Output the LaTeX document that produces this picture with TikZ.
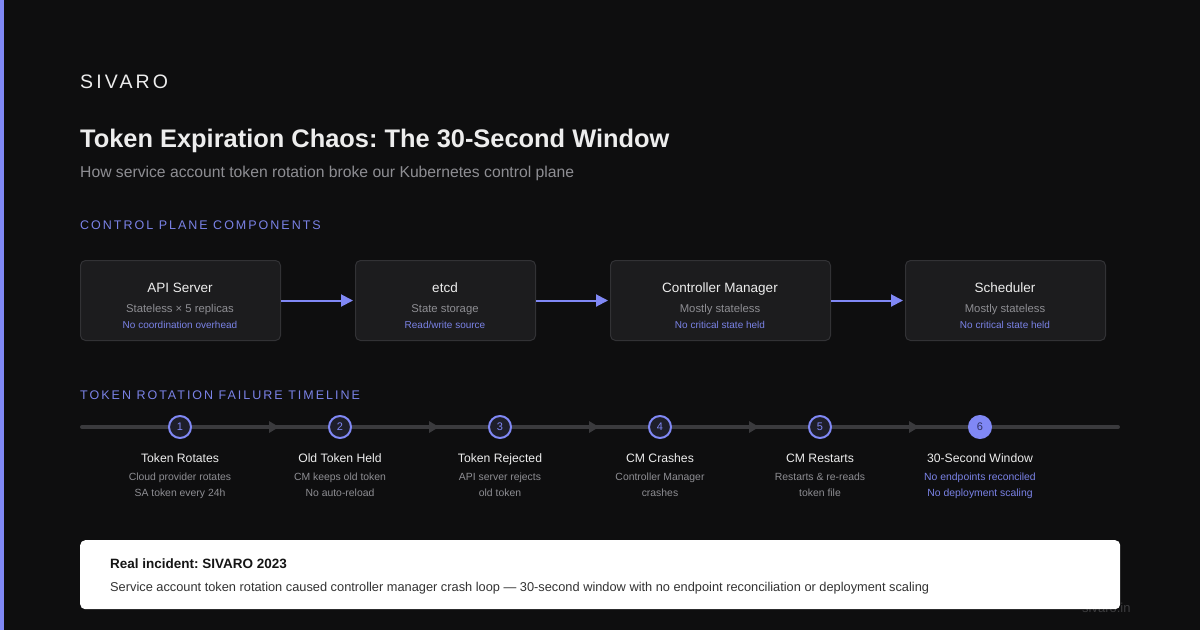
\documentclass[tikz,border=0pt]{standalone}
\usepackage{fontspec}
\setmainfont{Liberation Sans}
\newfontfamily\spacedA[LetterSpace=16]{Liberation Sans}
\newfontfamily\spacedB[LetterSpace=16]{Liberation Sans}
\usetikzlibrary{arrows.meta}
\frenchspacing
\definecolor{bg}{HTML}{0E0E0F}
\definecolor{boxfill}{HTML}{1C1C1E}
\definecolor{boxline}{HTML}{323235}
\definecolor{accent}{HTML}{8088F5}
\definecolor{accenttxt}{HTML}{7A82E6}
\definecolor{graytxt}{HTML}{8E8E93}
\definecolor{whitetxt}{HTML}{EDEDED}
\definecolor{linec}{HTML}{3A3A3D}
\definecolor{darktxt}{HTML}{151515}
\definecolor{bodytxt}{HTML}{333333}
\definecolor{wmark}{HTML}{3C3C3E}
\definecolor{stepfill}{HTML}{1E1E2A}
\definecolor{numdark}{HTML}{2E3060}
\newcommand{\fs}[1]{\fontsize{#1}{#1}\selectfont}
\tikzset{
  cbox/.style={draw=boxline, line width=1pt, fill=boxfill, rounded corners=5pt, anchor=north west, inner sep=0pt},
  ttl/.style={anchor=base, text=whitetxt, font=\fs{13.5}, inner sep=0pt},
  sub/.style={anchor=base, text=graytxt, font=\fs{11.3}, inner sep=0pt},
  acc/.style={anchor=base, text=accenttxt, font=\fs{10}, inner sep=0pt},
  conn/.style={draw=accent, line width=2pt, -{Triangle[length=12pt,width=12pt]}, shorten >=2pt},
  stepc/.style={circle, draw=accent, line width=2pt, fill=stepfill, minimum size=22pt, inner sep=0pt, text=accent, font=\fs{11}},
  stepcfill/.style={circle, draw=accent, line width=2pt, fill=accent, minimum size=22pt, inner sep=0pt, text=numdark, font=\fs{11}},
  tlttl/.style={anchor=base, text=whitetxt, font=\fs{12.2}, inner sep=0pt},
  tlsub/.style={anchor=base, text=graytxt, font=\fs{10.4}, inner sep=0pt},
  tlacc/.style={anchor=base, text=accenttxt, font=\fs{10.4}, inner sep=0pt},
  tip/.style={fill=linec},
}
\begin{document}
\begin{tikzpicture}[x=1pt,y=-1pt]
\fill[bg] (0,0) rectangle (1200,630);
\useasboundingbox (0,0) rectangle (1200,630);
\fill[accent] (0,0) rectangle (4,630);

% header
\node[anchor=base west, inner sep=0pt, text=whitetxt, font=\spacedA\fs{19.5}] (brand) at (80,88) {SIVARO};
\node[anchor=base west, inner sep=0pt, text=whitetxt, font=\bfseries\fs{25.4}] (title) at (80,147) {Token Expiration Chaos: The 30-Second Window};
\node[anchor=base west, inner sep=0pt, text=graytxt, font=\fs{15.7}] (subtitle) at (80,177.5) {How service account token rotation broke our Kubernetes control plane};
\node[anchor=base west, inner sep=0pt, text=accenttxt, font=\spacedB\fs{12.5}] (sec1) at (80,229.5) {CONTROL PLANE COMPONENTS};

% component boxes
\node[cbox, minimum width=200pt, minimum height=80pt] (api) at (80,260) {};
\node[cbox, minimum width=180pt, minimum height=80pt] (etcd) at (355,260) {};
\node[cbox, minimum width=220pt, minimum height=80pt] (cm) at (610,260) {};
\node[cbox, minimum width=200pt, minimum height=80pt] (sched) at (905,260) {};

\node[ttl] (apiT) at (180,292) {API Server};
\node[sub] (apiS) at (180,312) {Stateless × 5 replicas};
\node[acc] (apiA) at (180,328) {No coordination overhead};

\node[ttl] (etcdT) at (445,292) {etcd};
\node[sub] (etcdS) at (445,312) {State storage};
\node[acc] (etcdA) at (445,328) {Read/write source};

\node[ttl] (cmT) at (720,292) {Controller Manager};
\node[sub] (cmS) at (720,312) {Mostly stateless};
\node[acc] (cmA) at (720,328) {No critical state held};

\node[ttl] (schT) at (1005,292) {Scheduler};
\node[sub] (schS) at (1005,312) {Mostly stateless};
\node[acc] (schA) at (1005,328) {No critical state held};

\draw[conn] (api.east) -- (etcd.west);
\draw[conn] (etcd.east) -- (cm.west);
\draw[conn] (cm.east) -- (sched.west);

% timeline
\node[anchor=base west, inner sep=0pt, text=accenttxt, font=\spacedB\fs{12.5}] (sec2) at (80,399.5) {TOKEN ROTATION FAILURE TIMELINE};
\coordinate (tlA) at (82,427);
\coordinate (tlB) at (1118,427);
\draw[linec, line width=4pt, line cap=round] (tlA) -- (tlB);
\foreach \x in {279,439,599,759,919} {
  \fill[tip] (\x-10,421) -- (\x,427) -- (\x-10,433) -- cycle;
}
\node[stepc] (s1) at (180,427) {1};
\node[stepc] (s2) at (340,427) {2};
\node[stepc] (s3) at (500,427) {3};
\node[stepc] (s4) at (660,427) {4};
\node[stepc] (s5) at (820,427) {5};
\node[stepcfill] (s6) at (980,427) {6};

\node[tlttl] (t1) at (180,462) {Token Rotates};
\node[tlsub] (t1a) at (180,480) {Cloud provider rotates};
\node[tlsub] (t1b) at (180,496) {SA token every 24h};

\node[tlttl] (t2) at (340,462) {Old Token Held};
\node[tlsub] (t2a) at (340,480) {CM keeps old token};
\node[tlsub] (t2b) at (340,496) {No auto-reload};

\node[tlttl] (t3) at (500,462) {Token Rejected};
\node[tlsub] (t3a) at (500,480) {API server rejects};
\node[tlsub] (t3b) at (500,496) {old token};

\node[tlttl] (t4) at (660,462) {CM Crashes};
\node[tlsub] (t4a) at (660,480) {Controller Manager};
\node[tlsub] (t4b) at (660,496) {crashes};

\node[tlttl] (t5) at (820,462) {CM Restarts};
\node[tlsub] (t5a) at (820,480) {Restarts \& re-reads};
\node[tlsub] (t5b) at (820,496) {token file};

\node[tlttl] (t6) at (980,462) {30-Second Window};
\node[tlacc] (t6a) at (980,480) {No endpoints reconciled};
\node[tlacc] (t6b) at (980,496) {No deployment scaling};

% watermark then incident box
\node[anchor=base west, inner sep=0pt, text=wmark, font=\fs{13}] (wm) at (1082,612) {sivaro.in};
\node[anchor=north west, fill=white, rounded corners=5pt, minimum width=1040pt, minimum height=69pt, inner sep=0pt] (inc) at (80,540) {};
\node[anchor=base west, inner sep=0pt, text=darktxt, font=\bfseries\fs{13.5}] (incT) at (110,568) {Real incident: SIVARO 2023};
\node[anchor=base west, inner sep=0pt, text=bodytxt, font=\fs{12.8}] (incB) at (110,591.5) {Service account token rotation caused controller manager crash loop — 30-second window with no endpoint reconciliation or deployment scaling};
\end{tikzpicture}
\end{document}
